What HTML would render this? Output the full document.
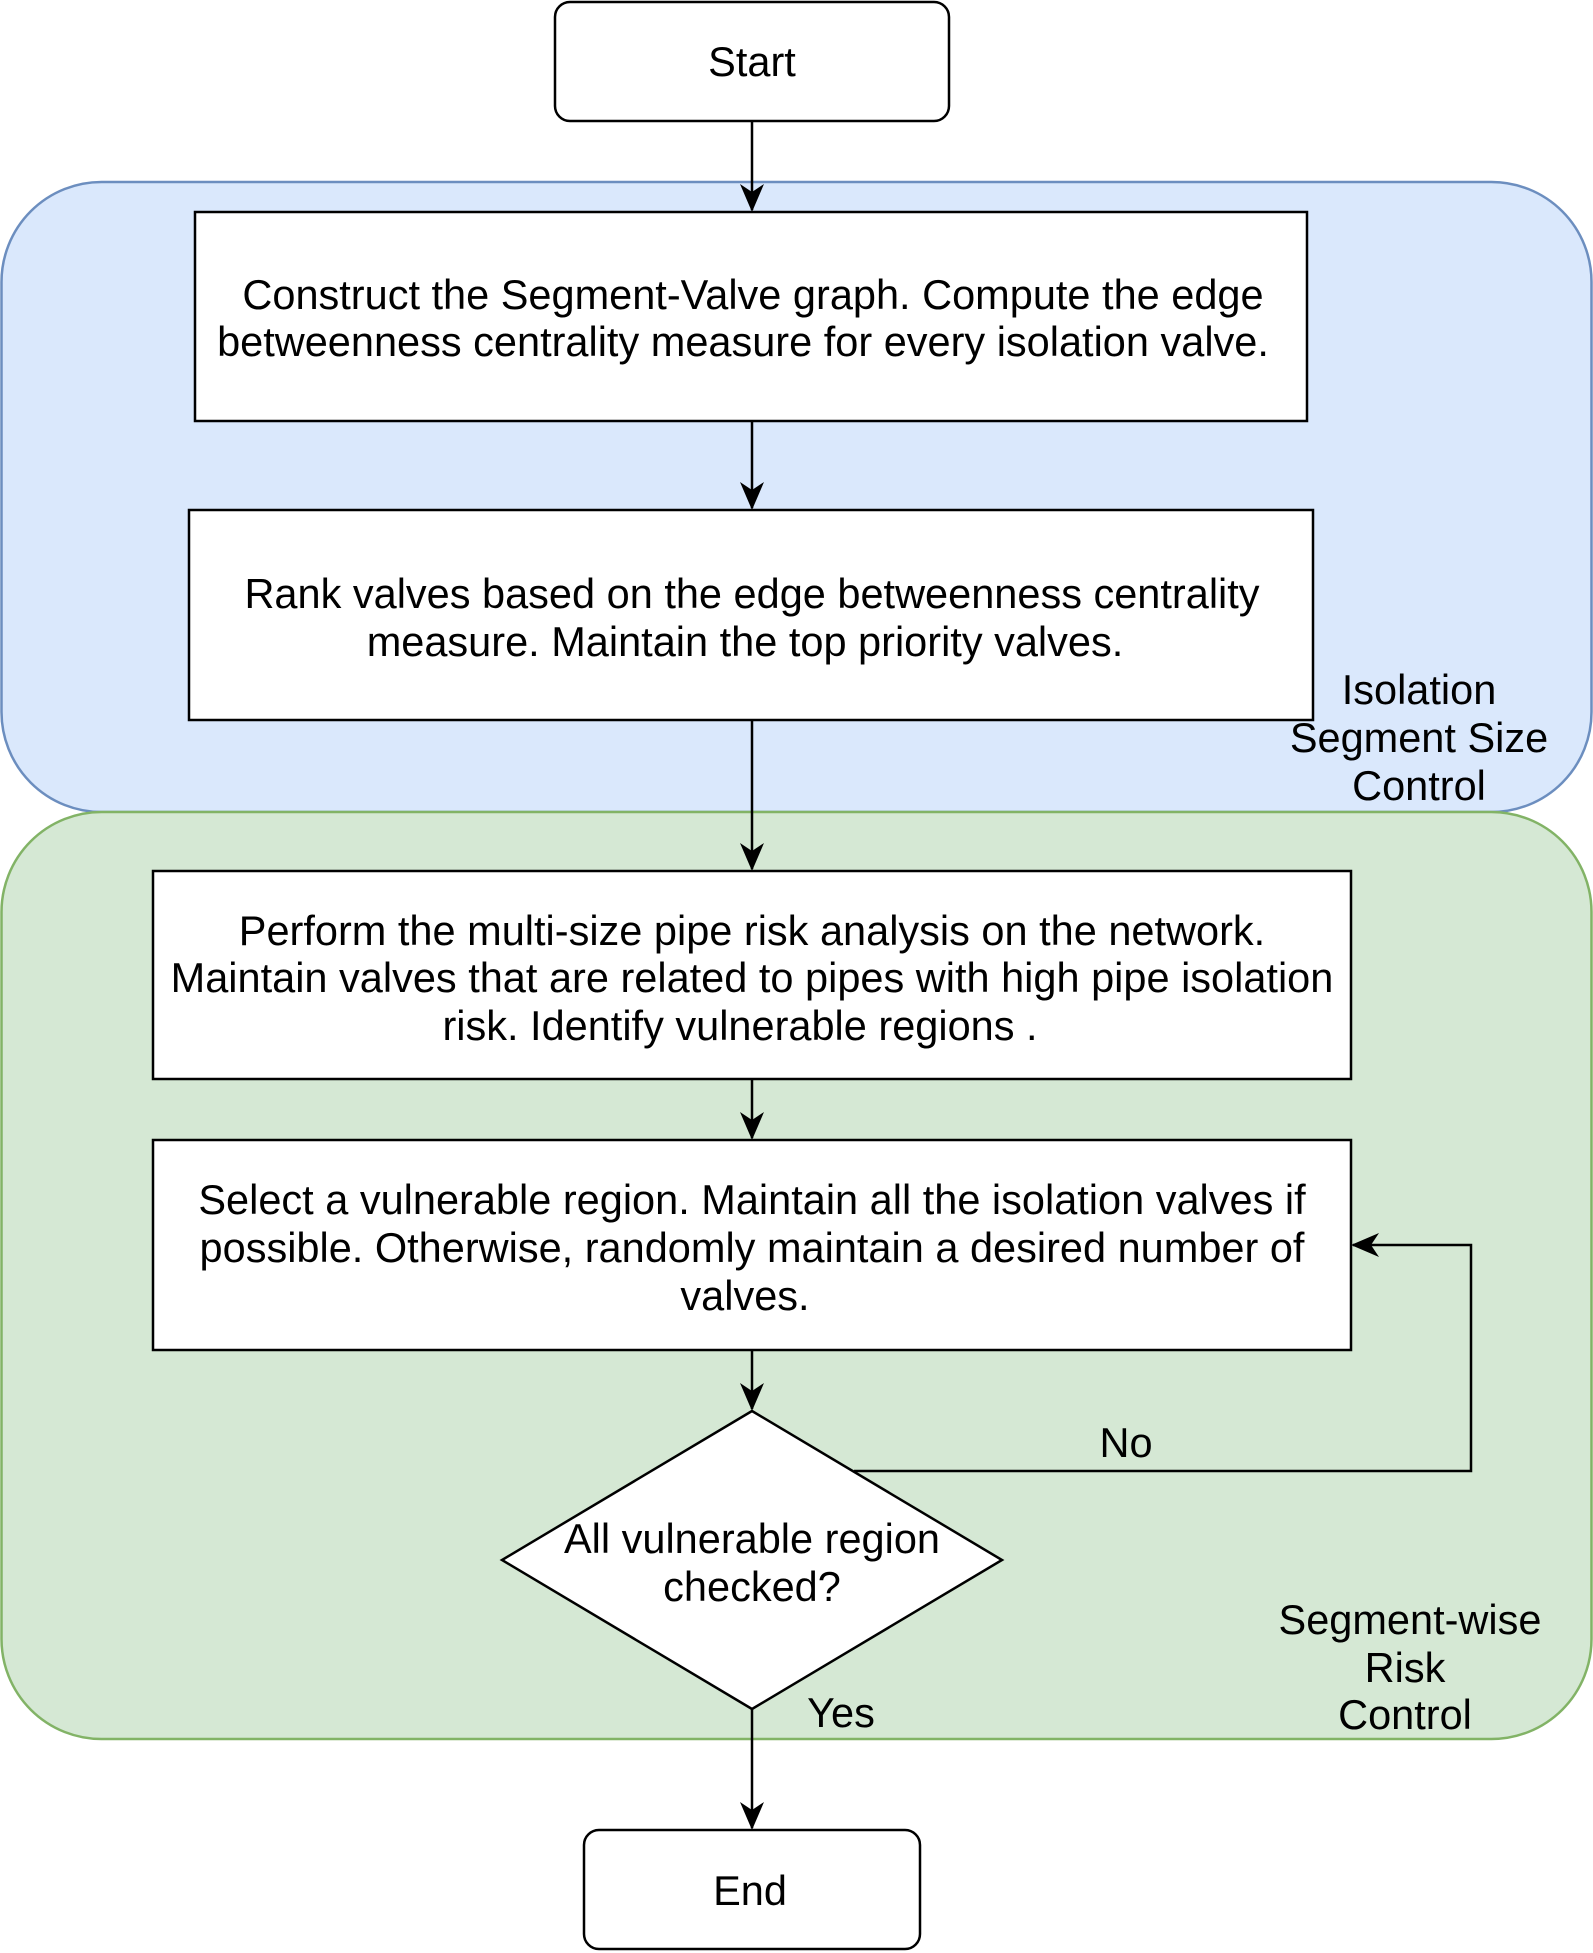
<!DOCTYPE html>
<html><head><meta charset="utf-8"><style>html,body{margin:0;padding:0;background:#fff}svg{display:block}text{font-family:"Liberation Sans",Helvetica,Arial,sans-serif;font-size:41.5px;fill:#000}</style></head>
<body>
<svg width="1593" height="1953" viewBox="0 0 1593 1953" xmlns="http://www.w3.org/2000/svg">
<defs><marker id="b" markerWidth="28" markerHeight="28" refX="26" refY="14" orient="auto" markerUnits="userSpaceOnUse"><path d="M0,2 L28,14 L0,26 L8,14 Z" fill="#000"/></marker></defs>
<rect x="1.5" y="182" width="1590" height="630" rx="100" fill="#dae8fc" stroke="#6c8ebf" stroke-width="2.5"/>
<rect x="1.5" y="812" width="1590" height="927" rx="100" fill="#d5e8d4" stroke="#82b366" stroke-width="2.5"/>
<rect x="555" y="2" width="394" height="119" rx="15" fill="#fff" stroke="#000" stroke-width="2.5"/>
<text x="752" y="76" text-anchor="middle">Start</text>
<rect x="195" y="212" width="1112" height="209" fill="#fff" stroke="#000" stroke-width="2.5"/>
<text x="753" y="309" text-anchor="middle">Construct the Segment-Valve graph. Compute the edge</text>
<text x="743" y="356" text-anchor="middle">betweenness centrality measure for every isolation valve.</text>
<rect x="189" y="510" width="1124" height="210" fill="#fff" stroke="#000" stroke-width="2.5"/>
<text x="752" y="608" text-anchor="middle">Rank valves based on the edge betweenness centrality</text>
<text x="745" y="656" text-anchor="middle">measure. Maintain the top priority valves.</text>
<rect x="153" y="871" width="1198" height="208" fill="#fff" stroke="#000" stroke-width="2.5"/>
<text x="752" y="945" text-anchor="middle">Perform the multi-size pipe risk analysis on the network.</text>
<text x="752" y="992" text-anchor="middle">Maintain valves that are related to pipes with high pipe isolation</text>
<text x="740" y="1040" text-anchor="middle">risk. Identify vulnerable regions .</text>
<rect x="153" y="1140" width="1198" height="210" fill="#fff" stroke="#000" stroke-width="2.5"/>
<text x="752" y="1214" text-anchor="middle">Select a vulnerable region. Maintain all the isolation valves if</text>
<text x="752" y="1262" text-anchor="middle">possible. Otherwise, randomly maintain a desired number of</text>
<text x="745" y="1310" text-anchor="middle">valves.</text>
<polygon points="752,1411 1002,1560 752,1709 502,1560" fill="#fff" stroke="#000" stroke-width="2.5"/>
<text x="752" y="1553" text-anchor="middle">All vulnerable region</text>
<text x="752" y="1601" text-anchor="middle">checked?</text>
<rect x="584" y="1830" width="336" height="119" rx="15" fill="#fff" stroke="#000" stroke-width="2.5"/>
<text x="750" y="1905" text-anchor="middle">End</text>
<text x="1419" y="704" text-anchor="middle">Isolation</text>
<text x="1419" y="752" text-anchor="middle">Segment Size</text>
<text x="1419" y="800" text-anchor="middle">Control</text>
<text x="1410" y="1634" text-anchor="middle">Segment-wise</text>
<text x="1405" y="1682" text-anchor="middle">Risk</text>
<text x="1405" y="1729" text-anchor="middle">Control</text>
<text x="1126" y="1457" text-anchor="middle">No</text>
<text x="841" y="1727" text-anchor="middle">Yes</text>
<g stroke="#000" stroke-width="2.5" fill="none">
<line x1="752" y1="121" x2="752" y2="210" marker-end="url(#b)"/>
<line x1="752" y1="421" x2="752" y2="508" marker-end="url(#b)"/>
<line x1="752" y1="720" x2="752" y2="869" marker-end="url(#b)"/>
<line x1="752" y1="1079" x2="752" y2="1138" marker-end="url(#b)"/>
<line x1="752" y1="1350" x2="752" y2="1409" marker-end="url(#b)"/>
<line x1="752" y1="1709" x2="752" y2="1828" marker-end="url(#b)"/>
<polyline points="854,1471 1471,1471 1471,1245 1353,1245" marker-end="url(#b)"/>
</g>
</svg>
</body></html>
